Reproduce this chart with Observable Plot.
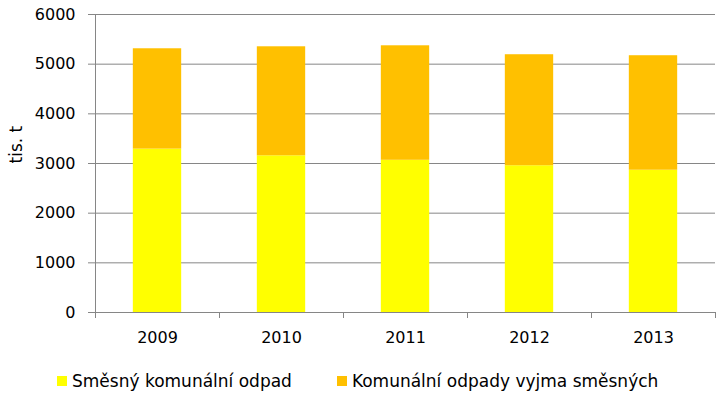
<!DOCTYPE html>
<html>
<head>
<meta charset="utf-8">
<script src="https://cdn.jsdelivr.net/npm/d3@7"></script>
<script src="https://cdn.jsdelivr.net/npm/@observablehq/plot@0.6"></script>
<style>
  html, body { margin: 0; padding: 0; background: #fff; }
  #chart svg text { fill: #000; }
  #legend { display: flex; gap: 45px; padding-left: 57px; margin-top: 21px; font: 17px "DejaVu Sans", sans-serif; color: #000; align-items: center; }
  .item { display: flex; align-items: center; gap: 5px; }
  .sw { width: 10px; height: 10px; display: inline-block; }
</style>
</head>
<body>
<div id="chart"></div>
<div id="legend"></div>
<script>
const years = [2009, 2010, 2011, 2012, 2013];
const mixedWaste = [3290, 3155, 3065, 2955, 2865];
const otherWaste = [2020, 2195, 2305, 2235, 2305];
const seriesNames = ["Směsný komunální odpad", "Komunální odpady vyjma směsných"];
const seriesColors = ["#FFFF00", "#FFC000"];
const yTicks = [0, 1000, 2000, 3000, 4000, 5000, 6000];
const yLabel = "tis. t";

const halfBar = 0.195;
const rows = [];
years.forEach((yr, i) => {
  rows.push({year: yr, series: seriesNames[0], y1: 0, y2: mixedWaste[i]});
  rows.push({year: yr, series: seriesNames[1], y1: mixedWaste[i], y2: mixedWaste[i] + otherWaste[i]});
});
const boundaries = [years[0] - 0.5, ...years.map(y => y + 0.5)];

const chart = Plot.plot({
  width: 726,
  height: 350,
  marginLeft: 95,
  marginRight: 11,
  marginTop: 14,
  marginBottom: 38,
  style: {fontFamily: "'DejaVu Sans', sans-serif", fontSize: "16px", color: "#868686", background: "#fff"},
  x: {domain: [years[0] - 0.5, years[years.length - 1] + 0.5], ticks: boundaries, tickSize: 6, tickFormat: () => "", label: null, line: true},
  y: {domain: [0, 6000], ticks: yTicks, tickSize: 7, tickPadding: 13, tickFormat: d => String(d), label: null, line: true},
  color: {domain: seriesNames, range: seriesColors},
  marks: [
    Plot.ruleY(yTicks, {stroke: "#868686", strokeWidth: 1}),
    Plot.rectY(rows, {x1: d => d.year - halfBar, x2: d => d.year + halfBar, y1: "y1", y2: "y2", fill: "series"}),
    Plot.text(years, {x: d => d, y: 0, text: d => String(d), dy: 25, fill: "#000", fontSize: 16}),
    Plot.text([yLabel], {frameAnchor: "left", rotate: -90, dx: -79, text: d => d, fill: "#000", fontSize: 17})
  ]
});
document.getElementById("chart").appendChild(chart);

const legend = document.getElementById("legend");
seriesNames.forEach((name, i) => {
  const item = document.createElement("span");
  item.className = "item";
  const sw = document.createElement("span");
  sw.className = "sw";
  sw.style.background = seriesColors[i];
  const t = document.createElement("span");
  t.textContent = name;
  item.appendChild(sw);
  item.appendChild(t);
  legend.appendChild(item);
});
</script>
</body>
</html>
